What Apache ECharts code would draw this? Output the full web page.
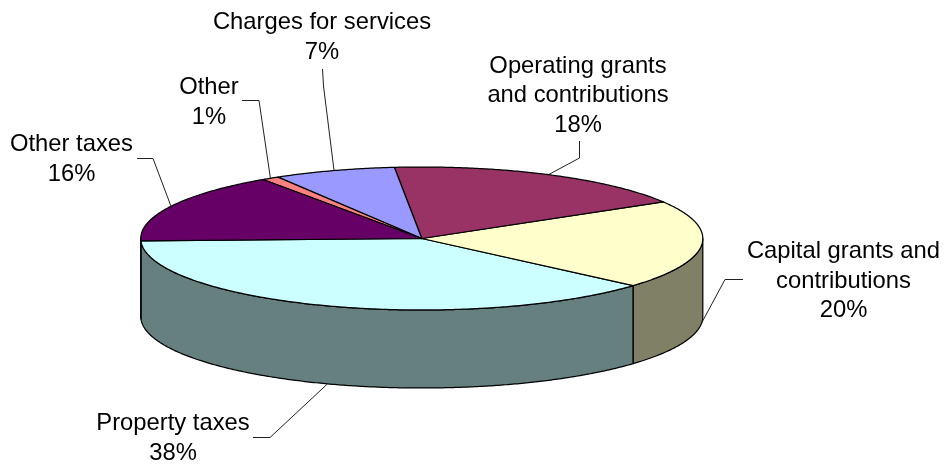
<!DOCTYPE html>
<html>
<head>
<meta charset="utf-8">
<style>html,body{margin:0;padding:0;background:#fff}#chart{width:947px;height:466px}</style>
<script src="https://cdn.jsdelivr.net/npm/echarts@6/dist/echarts.min.js"></script>
</head>
<body>
<div id="chart"></div>
<script>
// Revenue sources, in the order they run round the pie.
const categories = ['Property taxes', 'Capital grants and\ncontributions', 'Operating grants\nand contributions', 'Charges for services', 'Other', 'Other taxes'];
const shares = [38, 20, 18, 7, 1, 16];
const topColors = ['#CCFFFF', '#FFFFCC', '#993366', '#9999FF', '#FF8080', '#660066'];
const wallColors = ['#668080', '#808066', '#4D1A33', '#4D4D80', '#804040', '#330033'];

// Tilted disc geometry.
const CX = 421.8, CY = 238.5, RX = 281, RY = 71.5, DEPTH = 78;
const START_DEG = 182;   // slices run from the left edge through the front

// Label centres and the elbow of each leader line.
const labelAt = [[173, 438.5], [843.5, 281], [578, 95.5], [322, 37.5], [209, 102.5], [71.5, 159.5]];
const lineStart = [[253, 437.5], [743, 279.5], [579.5, 141], [322.5, 69], [242, 100.5], [137, 158.5]];
const lineElbow = [[270, 437.5], [725, 279.5], [579.5, 158], [323.5, 86], [259, 100.5], [153, 158.5]];

const total = shares.reduce((a, b) => a + b, 0);
const bounds = [START_DEG];
shares.forEach(v => bounds.push(bounds[bounds.length - 1] + v / total * 360));

const rim = (deg, drop) => {
  const t = deg * Math.PI / 180;
  return [CX + RX * Math.cos(t), CY - RY * Math.sin(t) + (drop || 0)];
};
const arc = (from, to, drop) => {
  const n = Math.max(2, Math.ceil(Math.abs(to - from) * 2));
  const pts = [];
  for (let i = 0; i <= n; i++) pts.push(rim(from + (to - from) * i / n, drop));
  return pts;
};
const outline = { stroke: '#000', lineWidth: 1.25, lineJoin: 'round' };

// Front-facing part of a slice: any overlap with the 180..360 degree half.
function renderWall(params) {
  const i = params.dataIndex, a = bounds[i], b = bounds[i + 1];
  const children = [];
  [[180, 360], [540, 720]].forEach(([lo, hi]) => {
    const from = Math.max(a, lo), to = Math.min(b, hi);
    if (to > from) {
      children.push({
        type: 'polygon',
        shape: { points: arc(from, to, 0).concat(arc(to, from, DEPTH)) },
        style: Object.assign({ fill: wallColors[i] }, outline)
      });
    }
  });
  return { type: 'group', children };
}

function renderTop(params) {
  const i = params.dataIndex;
  return {
    type: 'polygon',
    shape: { points: [[CX, CY]].concat(arc(bounds[i], bounds[i + 1], 0)) },
    style: Object.assign({ fill: topColors[i] }, outline)
  };
}

// Leader runs to the rim at the slice's middle angle; front slices meet the lower rim.
function renderLabel(params) {
  const i = params.dataIndex;
  const mid = (bounds[i] + bounds[i + 1]) / 2;
  const front = Math.sin(mid * Math.PI / 180) < 0;
  return {
    type: 'group',
    children: [
      {
        type: 'polyline',
        shape: { points: [lineStart[i], lineElbow[i], rim(mid, front ? DEPTH : 0)] },
        style: { stroke: '#222', lineWidth: 1, fill: null }
      },
      {
        type: 'text',
        style: {
          x: labelAt[i][0], y: labelAt[i][1],
          text: categories[i] + '\n' + shares[i] + '%',
          fontFamily: '"Liberation Sans", Arial, sans-serif',
          fontSize: 23.8, lineHeight: 29.5,
          fill: '#000', align: 'center', verticalAlign: 'middle'
        }
      }
    ]
  };
}

const chart = echarts.init(document.getElementById('chart'), null, { renderer: 'canvas' });
chart.setOption({
  animation: false,
  backgroundColor: '#fff',
  series: [
    { type: 'custom', coordinateSystem: 'none', z: 1, data: shares, renderItem: renderWall, silent: true },
    { type: 'custom', coordinateSystem: 'none', z: 2, data: shares, renderItem: renderTop, silent: true },
    { type: 'custom', coordinateSystem: 'none', z: 3, data: shares, renderItem: renderLabel, silent: true }
  ]
});
</script>
</body>
</html>
